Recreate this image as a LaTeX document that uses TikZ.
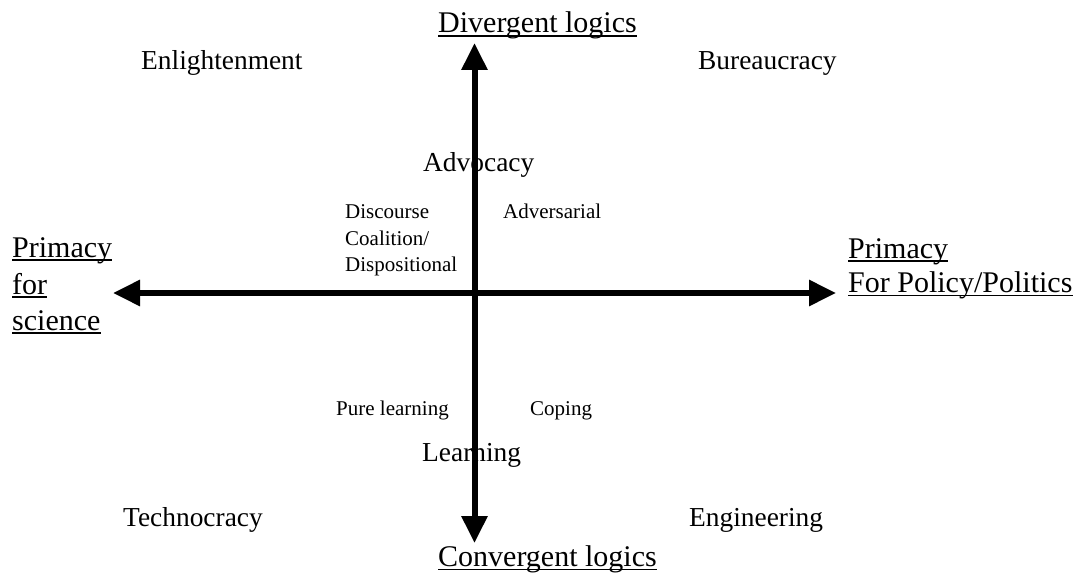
\documentclass[tikz,border=0pt]{standalone}
\usepackage{fontspec}
\setmainfont{Liberation Serif}
\usetikzlibrary{arrows.meta}
\begin{document}
\begin{tikzpicture}[x=1pt,y=-1pt,
  big/.style={font=\fontsize{30}{36}\selectfont, inner sep=0pt, anchor=base west},
  mid/.style={font=\fontsize{27.4}{32}\selectfont, inner sep=0pt, anchor=base west},
  small/.style={font=\fontsize{21}{27}\selectfont, inner sep=0pt, anchor=base west},
  axis/.style={line width=6pt, {Triangle[length=27pt,width=25pt]}-{Triangle[length=27pt,width=25pt]}},
  uline/.style={line width=1.5pt}]
\useasboundingbox (0,0) rectangle (1076,578);
% quadrant labels
\node[mid] (enl) at (141,70) {Enlightenment};
\node[mid] (bur) at (698,70) {Bureaucracy};
\node[mid] (tec) at (123,526) {Technocracy};
\node[mid] (eng) at (689,526) {Engineering};
\node[mid] (adv) at (423,171.5) {Advocacy};
\node[mid] (lea) at (422,461.5) {Learning};
\node[small] (dis1) at (345,218) {Discourse};
\node[small] (dis2) at (345,245) {Coalition/};
\node[small] (dis3) at (345,271.5) {Dispositional};
\node[small] (adr) at (503,218) {Adversarial};
\node[small] (pur) at (336,415) {Pure learning};
\node[small] (cop) at (530,415) {Coping};
% axis labels
\node[big] (div) at (438,33) {Divergent logics};
\node[big] (con) at (438,566.5) {Convergent logics};
\node[big] (ps1) at (12,257) {Primacy};
\node[big] (ps2) at (12,294) {for};
\node[big] (ps3) at (12,330) {science};
\node[big] (pp1) at (848,258) {Primacy};
\node[big] (pp2) at (848,292.7) {For Policy/Politics};
\foreach \n in {div,con,ps1,ps2,ps3,pp1,pp2}
  \draw[uline] ([yshift=-3pt]\n.base west) -- ([yshift=-3pt]\n.base east);
% axes
\coordinate (L) at (113,293);
\coordinate (R) at (836,293);
\coordinate (T) at (474.5,43);
\coordinate (B) at (474.5,543);
\draw[axis] (L) -- (R);
\draw[axis] (T) -- (B);
\end{tikzpicture}
\end{document}
